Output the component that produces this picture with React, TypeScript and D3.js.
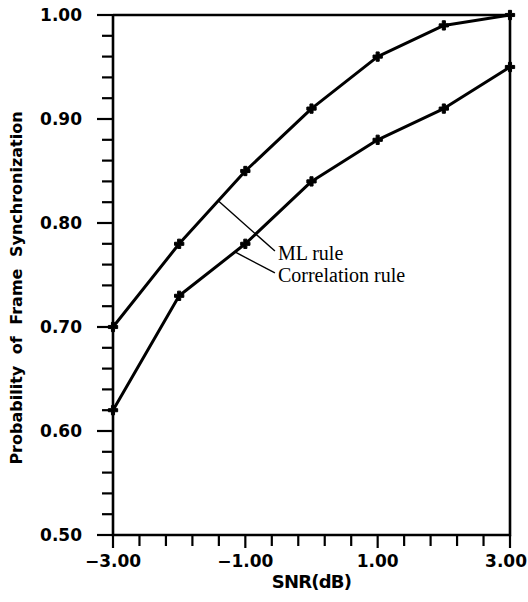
import React, {useEffect, useRef} from "react";
import * as d3 from "d3";

const snr = [-3, -2, -1, 0, 1, 2, 3];
const mlRule = [0.70, 0.78, 0.85, 0.91, 0.96, 0.99, 1.00];
const corrRule = [0.62, 0.73, 0.78, 0.84, 0.88, 0.91, 0.95];

const xMajor = [-3, -1, 1, 3];
const yMajor = [0.5, 0.6, 0.7, 0.8, 0.9, 1.0];

// annotation: [series, x on curve, label x, label y]
const notes: [number[], number, number, number, string][] = [
  [mlRule, -1.41, -0.553, 0.773, "ML rule"],
  [corrRule, -1.157, -0.553, 0.752, "Correlation rule"],
];

const W = 528;
const H = 602;
const SANS = "'DejaVu Sans', sans-serif";
const SERIF = "'Liberation Serif', 'Times New Roman', serif";

export default function App() {
  const ref = useRef<SVGSVGElement>(null);

  useEffect(() => {
    const svg = d3.select(ref.current);
    svg.selectAll("*").remove();

    const x = d3.scaleLinear().domain([-3, 3]).range([113, 510]);
    const y = d3.scaleLinear().domain([0.5, 1]).range([535, 15]);

    // frame
    const frame = svg.append("g").attr("stroke", "black").attr("stroke-width", 2.6).attr("fill", "none");
    frame.append("path").attr("d", `M${x(-3)},${y(1)}V${y(0.5)}H${x(3)}V${y(1)}H${x(-3)}`);

    // y ticks
    const yMinor = d3.range(0.5, 1.0001, 0.02);
    frame.selectAll(".ym").data(yMinor).join("line")
      .attr("x1", d => yMajor.some(m => Math.abs(m - d) < 1e-6) ? x(-3) - 16 : x(-3) - 11)
      .attr("x2", x(-3))
      .attr("y1", d => y(d)).attr("y2", d => y(d))
      .attr("stroke-width", 2.2);

    // x ticks
    const xMinor = d3.range(-3, 3.0001, 0.4);
    frame.selectAll(".xm").data(xMinor).join("line")
      .attr("x1", d => x(d)).attr("x2", d => x(d))
      .attr("y1", y(0.5))
      .attr("y2", d => xMajor.some(m => Math.abs(m - d) < 1e-6) ? y(0.5) + 13 : y(0.5) + 11)
      .attr("stroke-width", 2.2);

    // tick labels
    svg.append("g").selectAll("text").data(yMajor).join("text")
      .attr("x", 82).attr("y", d => y(d) + 6)
      .attr("text-anchor", "end")
      .attr("font-family", SANS).attr("font-weight", "bold").attr("font-size", 17)
      .text(d => d.toFixed(2));

    svg.append("g").selectAll("text").data(xMajor).join("text")
      .attr("x", (d, i) => i === xMajor.length - 1 ? W - 1 : x(d)).attr("y", 567)
      .attr("text-anchor", (d, i) => i === xMajor.length - 1 ? "end" : "middle")
      .attr("font-family", SANS).attr("font-weight", "bold").attr("font-size", 17)
      .text(d => (d < 0 ? "\u2212" : "") + Math.abs(d).toFixed(2));

    // axis titles
    svg.append("text")
      .attr("x", (x(-3) + x(3)) / 2).attr("y", 588)
      .attr("text-anchor", "middle")
      .attr("font-family", SANS).attr("font-weight", "bold").attr("font-size", 18)
      .attr("letter-spacing", -0.8)
      .text("SNR(dB)");

    svg.append("text")
      .attr("transform", "translate(22,288) rotate(-90)")
      .attr("text-anchor", "middle")
      .attr("font-family", SANS).attr("font-weight", "bold").attr("font-size", 16)
      .attr("word-spacing", 6)
      .text("Probability of Frame Synchronization");

    // series
    const line = d3.line<number>().x((_, i) => x(snr[i])).y(d => y(d));
    [mlRule, corrRule].forEach(s => {
      svg.append("path").datum(s).attr("d", line)
        .attr("fill", "none").attr("stroke", "black").attr("stroke-width", 3)
        .attr("stroke-linejoin", "round");
      svg.append("g").selectAll("path").data(s).join("path")
        .attr("transform", (d, i) => `translate(${x(snr[i])},${y(d)})`)
        .attr("d", d3.symbol(d3.symbolCross, 48))
        .attr("fill", "black").attr("stroke", "black").attr("stroke-width", 1);
    });

    // annotations
    const interp = (s: number[], xv: number) => {
      const i = Math.min(Math.floor(xv + 3), snr.length - 2);
      const t = (xv - snr[i]) / (snr[i + 1] - snr[i]);
      return s[i] + t * (s[i + 1] - s[i]);
    };
    notes.forEach(([s, xv, lx, ly, label]) => {
      svg.append("line")
        .attr("x1", x(xv)).attr("y1", y(interp(s, xv)))
        .attr("x2", x(lx)).attr("y2", y(ly))
        .attr("stroke", "black").attr("stroke-width", 1.4);
      svg.append("text")
        .attr("x", x(lx) + 3).attr("y", y(ly) + 9)
        .attr("font-family", SERIF).attr("font-size", 20)
        .text(label);
    });
  }, []);

  return (
    <svg ref={ref} width={W} height={H}
      style={{position: "absolute", left: 0, top: 0, background: "white"}} />
  );
}
